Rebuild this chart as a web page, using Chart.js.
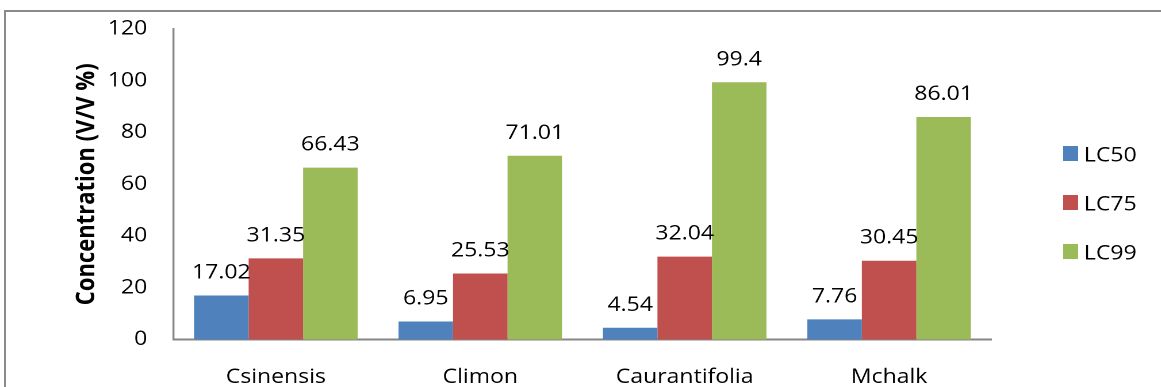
<!DOCTYPE html>
<html>
<head>
<meta charset="utf-8">
<script src="https://cdn.jsdelivr.net/npm/chart.js@4.4.0/dist/chart.umd.min.js"></script>
<style>
  html, body { margin: 0; padding: 0; background: #fff; overflow: hidden; }
  #wrap { position: relative; width: 1161px; height: 387px; overflow: hidden; }
  #frame { position: absolute; left: 4px; top: 10px; right: -10px; bottom: -10px;
           border-left: 2px solid #8a8a8a; border-top: 2px solid #8a8a8a; }
  /* the chart is laid out a little narrower and widened to fill the row */
  #chart { position: absolute; left: 0; top: 0; transform: scaleX(1.15); transform-origin: 0 0; }
</style>
</head>
<body>
<div id="wrap">
  <div id="frame"></div>
  <canvas id="chart" width="1010" height="387"></canvas>
</div>
<script>
const species = ["Csinensis", "Climon", "Caurantifolia", "Mchalk"];
const lc50 = [17.02, 6.95, 4.54, 7.76];
const lc75 = [31.35, 25.53, 32.04, 30.45];
const lc99 = [66.43, 71.01, 99.4, 86.01];
const yTicks = [0, 20, 40, 60, 80, 100, 120];

const FONT = "'Open Sans', 'Liberation Sans', sans-serif";
const TEXT_SIZE = 20;

// value printed above each bar
const barValues = {
  id: "barValues",
  afterDatasetsDraw(chart) {
    const ctx = chart.ctx;
    ctx.save();
    ctx.font = TEXT_SIZE + "px " + FONT;
    ctx.fillStyle = "#000";
    ctx.textAlign = "center";
    ctx.textBaseline = "alphabetic";
    chart.data.datasets.forEach((ds, i) => {
      chart.getDatasetMeta(i).data.forEach((bar, j) => {
        ctx.fillText(String(ds.data[j]), bar.x, bar.y - 17);
      });
    });
    ctx.restore();
  }
};

// legend stacked on the right
const sideLegend = {
  id: "sideLegend",
  afterDraw(chart) {
    const ctx = chart.ctx;
    const x = chart.chartArea.right + 62.5;
    ctx.save();
    ctx.font = TEXT_SIZE + "px " + FONT;
    ctx.textBaseline = "alphabetic";
    chart.data.datasets.forEach((ds, i) => {
      const y = 153.5 + i * 49;
      ctx.fillStyle = ds.backgroundColor;
      ctx.fillRect(x, y - 7.5, 13, 15);
      ctx.fillStyle = "#000";
      ctx.fillText(ds.label, x + 18, y + 8);
    });
    ctx.restore();
  }
};

new Chart(document.getElementById("chart"), {
  type: "bar",
  data: {
    labels: species,
    datasets: [
      { label: "LC50", data: lc50, backgroundColor: "#4F81BD" },
      { label: "LC75", data: lc75, backgroundColor: "#C0504D" },
      { label: "LC99", data: lc99, backgroundColor: "#9BBB59" }
    ]
  },
  options: {
    responsive: false,
    animation: false,
    devicePixelRatio: 2,
    layout: { padding: { top: 29, right: 148, left: 0, bottom: 0 } },
    datasets: { bar: { categoryPercentage: 0.8, barPercentage: 1.0 } },
    plugins: { legend: { display: false }, tooltip: { enabled: false } },
    scales: {
      x: {
        grid: { display: false, drawTicks: false },
        border: { display: true, color: "#868686", width: 2 },
        ticks: { padding: 26, color: "#000", font: { family: FONT, size: TEXT_SIZE } },
        afterFit(scale) { scale.height = 47.5; }
      },
      y: {
        min: 0,
        max: 120,
        afterBuildTicks(scale) { scale.ticks = yTicks.map(v => ({ value: v })); },
        grid: { display: false, drawTicks: false },
        border: { display: true, color: "#868686", width: 1.7 },
        ticks: { padding: 23, color: "#000", font: { family: FONT, size: TEXT_SIZE } },
        title: {
          display: true,
          text: "Concentration (V/V %)",
          color: "#000",
          font: { family: FONT, size: 22, weight: "bold" },
          padding: { top: 62.5, bottom: 0 }
        },
        afterFit(scale) {
          scale.width = 151;
          // keep the label overhang from pushing the plot top down
          scale.paddingTop = 0;
          scale.paddingBottom = 0;
        }
      }
    }
  },
  plugins: [barValues, sideLegend]
});
</script>
</body>
</html>
